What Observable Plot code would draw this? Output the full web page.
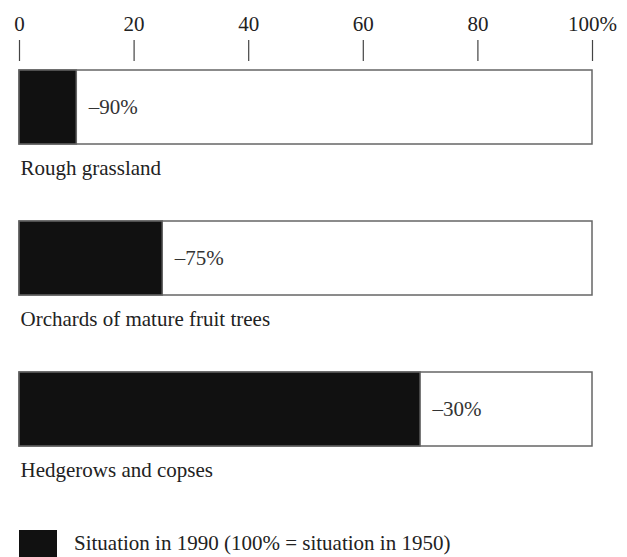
<!DOCTYPE html>
<html>
<head>
<meta charset="utf-8">
<script src="https://cdn.jsdelivr.net/npm/d3@7"></script>
<script src="https://cdn.jsdelivr.net/npm/@observablehq/plot@0.6"></script>
<style>
  html, body { margin: 0; padding: 0; background: #fff; }
  body { width: 627px; height: 557px; overflow: hidden; font-family: "Liberation Serif", "Times New Roman", serif; }
  #legend { position: relative; height: 37px; }
  #legend .sw { position: absolute; left: 19px; top: 10px; width: 38px; height: 30px; background: #111; }
  #legend .lbl { position: absolute; left: 74px; top: 11px; font-size: 21px; color: #222; white-space: nowrap; }
</style>
</head>
<body>
<div id="chart"></div>
<div id="legend"><div class="sw"></div><div class="lbl">Situation in 1990 (100% = situation in 1950)</div></div>
<script>
const categories = ["Rough grassland", "Orchards of mature fruit trees", "Hedgerows and copses"];
const values1990 = [10, 25, 70];
const changeLabels = ["–90%", "–75%", "–30%"];
const tickValues = [0, 20, 40, 60, 80, 100];
const tickLabels = ["0", "20", "40", "60", "80", "100%"];

const data = categories.map((c, i) => ({category: c, value: values1990[i], label: changeLabels[i], full: 100}));

const plot = Plot.plot({
  width: 627,
  height: 520,
  marginLeft: 19,
  marginRight: 35,
  marginTop: 60,
  marginBottom: 0,
  style: {fontFamily: "Liberation Serif, Times New Roman, serif", fontSize: "21px", background: "#fff"},
  x: {domain: [0, 100], axis: null},
  y: {domain: categories, range: [69, 446], paddingInner: 0.512, paddingOuter: 0, axis: null},
  marks: [
    Plot.axisX({
      anchor: "top",
      ticks: tickValues,
      tickFormat: (d, i) => tickLabels[tickValues.indexOf(d)],
      tickSize: 21,
      tickPadding: 9,
      stroke: "#444",
      color: "#222",
      fontSize: 21,
      strokeWidth: 1.2
    }),
    Plot.barX(data, {x1: 0, x2: "full", y: "category", fill: "#fff", stroke: "#666", strokeWidth: 1.5}),
    Plot.barX(data, {x1: 0, x2: "value", y: "category", fill: "#111", stroke: "#666", strokeWidth: 1.5}),
    Plot.text(data, {x: "value", y: "category", text: "label", textAnchor: "start", dx: 12, fill: "#333", fontSize: 21}),
    Plot.text(data, {x: 0, y: "category", text: "category", textAnchor: "start", dx: 1, dy: 61, fill: "#222", fontSize: 21})
  ]
});
document.getElementById("chart").appendChild(plot);
</script>
</body>
</html>
